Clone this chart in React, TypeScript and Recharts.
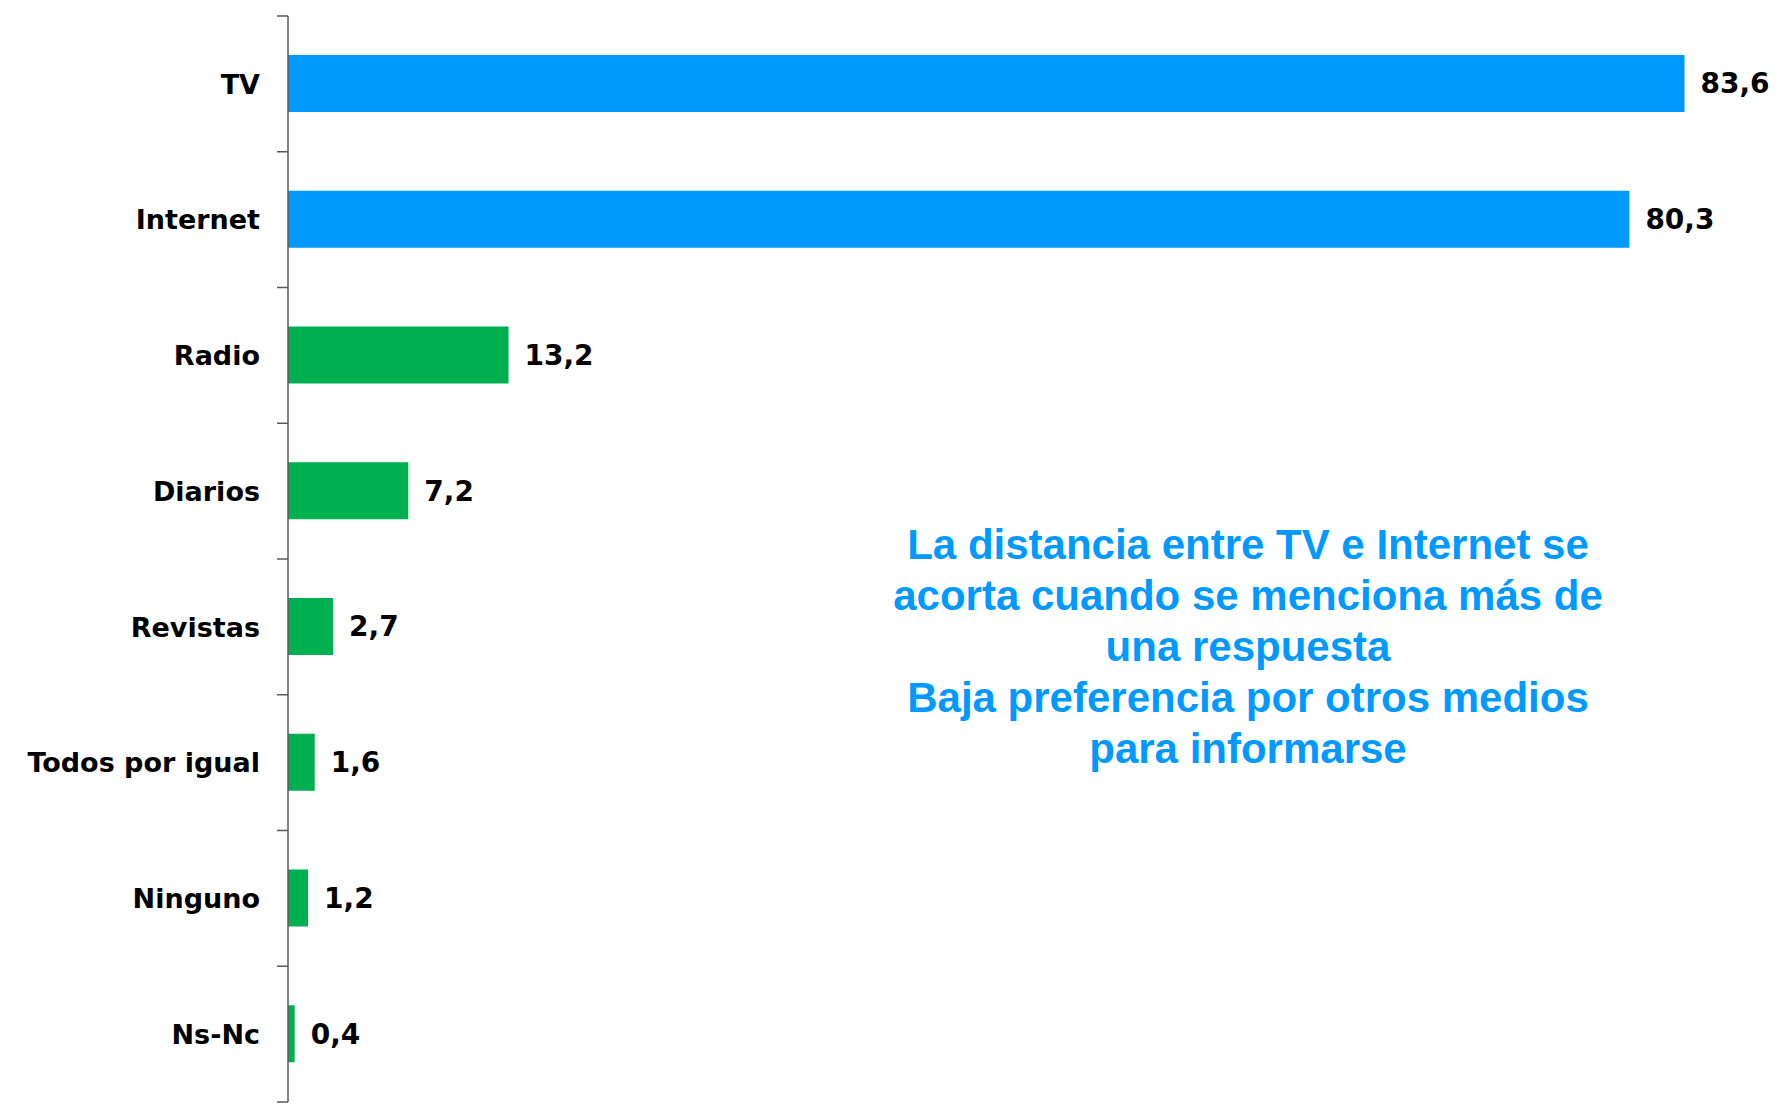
import React from 'react';
import { BarChart, Bar, XAxis, YAxis, Cell, LabelList } from 'recharts';

// Medio por el que se informa (respuesta múltiple, %)
const categories = ['TV', 'Internet', 'Radio', 'Diarios', 'Revistas', 'Todos por igual', 'Ninguno', 'Ns-Nc'];
const values = [83.6, 80.3, 13.2, 7.2, 2.7, 1.6, 1.2, 0.4];
const topMedia = ['TV', 'Internet'];

const noteLines = [
  'La distancia entre TV e Internet se',
  'acorta cuando se menciona más de',
  'una respuesta',
  'Baja preferencia por otros medios',
  'para informarse',
];

const data = categories.map((name, i) => ({ name, value: values[i] }));

const WIDTH = 1785;
const HEIGHT = 1111;
const MARGIN = { top: 16, right: 27, bottom: 9, left: 0 };
const AXIS_W = 288;
const BAND = (HEIGHT - MARGIN.top - MARGIN.bottom) / categories.length;

const BLUE = '#0099FF';
const GREEN = '#00B050';
const AXIS_COLOR = '#595959';
const LABEL_FONT = '"DejaVu Sans", Verdana, sans-serif';

const CategoryTick = (props: any) => {
  const { y, payload, index } = props;
  const ax = MARGIN.left + AXIS_W;
  return (
    <g>
      <line x1={ax - 11} x2={ax} y1={y - BAND / 2} y2={y - BAND / 2} stroke={AXIS_COLOR} strokeWidth={1.5} />
      {index === categories.length - 1 && (
        <line x1={ax - 11} x2={ax} y1={y + BAND / 2} y2={y + BAND / 2} stroke={AXIS_COLOR} strokeWidth={1.5} />
      )}
      <text
        x={ax - 28}
        y={y}
        dy="0.36em"
        textAnchor="end"
        fontFamily={LABEL_FONT}
        fontWeight="bold"
        fontSize={27}
        fill="#000"
      >
        {payload.value}
      </text>
    </g>
  );
};

export default function App() {
  return (
    <div style={{ position: 'absolute', left: 0, top: 0, width: WIDTH, height: HEIGHT, background: '#fff', overflow: 'hidden' }}>
      <BarChart width={WIDTH} height={HEIGHT} data={data} layout="vertical" margin={MARGIN}>
        <XAxis type="number" domain={[0, 88]} hide />
        <YAxis
          type="category"
          dataKey="name"
          width={AXIS_W}
          axisLine={{ stroke: AXIS_COLOR, strokeWidth: 1.5 }}
          tickLine={false}
          tick={<CategoryTick />}
          interval={0}
        />
        <Bar dataKey="value" barSize={57} isAnimationActive={false}>
          {data.map((d) => (
            <Cell key={d.name} fill={topMedia.includes(d.name) ? BLUE : GREEN} />
          ))}
          <LabelList
            dataKey="value"
            position="right"
            offset={16}
            formatter={(v: any) => String(v).replace('.', ',')}
            fontFamily={LABEL_FONT}
            fontWeight="bold"
            fontSize={28}
            fill="#000"
          />
        </Bar>
      </BarChart>

      <div
        style={{
          position: 'absolute',
          left: 848,
          top: 519,
          width: 800,
          textAlign: 'center',
          color: BLUE,
          fontFamily: '"Liberation Sans", Arial, sans-serif',
          fontWeight: 'bold',
          fontSize: 42,
          lineHeight: '51px',
        }}
      >
        {noteLines.map((l) => (
          <div key={l}>{l}</div>
        ))}
      </div>
    </div>
  );
}
